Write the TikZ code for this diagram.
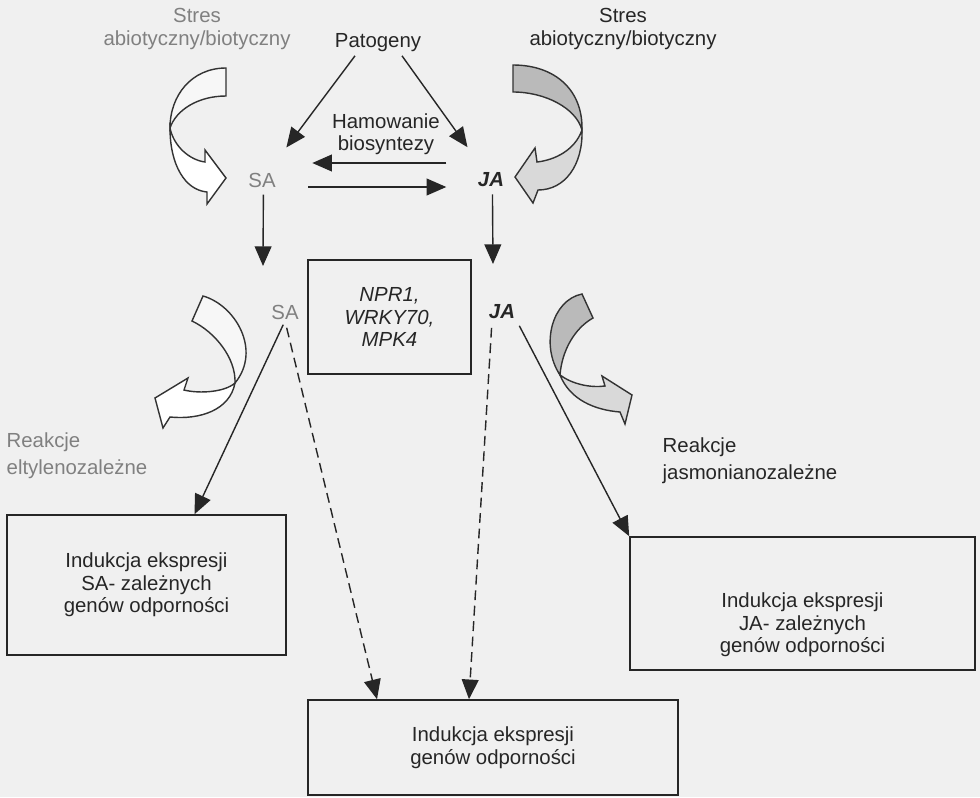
\documentclass[tikz,border=0pt]{standalone}
\usepackage{fontspec}
\setmainfont{Liberation Sans}
\usetikzlibrary{arrows.meta, positioning}

\newcommand{\diagfont}{\fontsize{14.5}{16}\selectfont}
\newcommand{\reakfont}{\fontsize{14.5}{19}\selectfont}

\begin{document}
\begin{tikzpicture}[
    x=0.025cm, y=-0.025cm,
    lbl/.style={font=\diagfont, text=black!85, align=center, inner sep=1pt},
    greylbl/.style={lbl, text=black!50},
    acid/.style={lbl, font=\diagfont\bfseries\itshape},
    genbox/.style={draw=black!85, line width=1.1pt, font=\diagfont,
      text=black!85, align=center, inner sep=4pt},
    arr/.style={-{Triangle[length=14pt,width=12pt]}, line width=1pt, black!85},
    dasharr/.style={arr, dash pattern=on 7pt off 4pt},
    backpale/.style={draw=black!80, line width=1pt, fill=black!3},
    frontpale/.style={draw=black!80, line width=1pt, fill=white},
    backgrey/.style={draw=black!80, line width=1pt, fill=black!27},
    frontgrey/.style={draw=black!80, line width=1pt, fill=black!15}
  ]
    \fill[black!6, use as bounding box] (0,0) rectangle (980,797);

    \node[greylbl] (stresL) at (197,29) {Stres\\abiotyczny/biotyczny};
    \node[lbl] (stresR) at (623,29) {Stres\\abiotyczny/biotyczny};
    \node[lbl] (pat) at (378,43) {Patogeny};
    \node[lbl] (ham) at (386,134) {Hamowanie\\biosyntezy};
    \node[greylbl] (sa1) at (262,180) {SA};
    \node[acid] (ja1) at (491,180) {JA};
    \node[genbox, minimum width=4.075cm, minimum height=2.85cm,
      font=\diagfont\itshape] (npr) at (389.5,317) {NPR1,\\WRKY70,\\MPK4};
    \node[greylbl] (sa2) at (285,312) {SA};
    \node[acid] (ja2) at (502,312) {JA};
    \node[greylbl, font=\reakfont, align=left, anchor=west] (reakL) at (5,456)
      {Reakcje\\eltylenozależne};
    \node[lbl, font=\reakfont, align=left, anchor=west] (reakR) at (661,461)
      {Reakcje\\jasmonianozależne};
    \node[genbox, minimum width=6.975cm, minimum height=3.5cm] (boxSA) at (146.5,585)
      {Indukcja ekspresji\\SA- zależnych\\genów odporności};
    \node[genbox, minimum width=8.625cm, minimum height=3.325cm, text height=73pt]
      (boxJA) at (802.5,603.5) {Indukcja ekspresji\\JA- zależnych\\genów odporności};
    \node[genbox, minimum width=9.25cm, minimum height=2.375cm] (boxAll) at (493,747.5)
      {Indukcja ekspresji\\genów odporności};

    \coordinate (sa1end) at (263,266);
    \coordinate (ja1end) at (493,264);

    \draw[arr, shorten >=21pt] ([shift={(-23,2)}]pat.south) -- (sa1);
    \draw[arr, shorten >=21pt] ([shift={(24,2)}]pat.south) -- (ja1);
    \draw[arr] ([shift={(-30,-17)}]ja1.west) -- ([shift={(35,-17)}]sa1.east);
    \draw[arr] ([shift={(31,7)}]sa1.east) -- ([shift={(-30,7)}]ja1.west);
    \draw[arr, shorten <=4pt] ([xshift=1pt]sa1.south) -- (sa1end);
    \draw[arr, shorten <=4pt] ([xshift=1pt]ja1.south) -- (ja1end);
    \draw[arr, shorten <=3pt] (sa2.south) -- ([shift={(48,0)}]boxSA.north);
    \draw[dasharr, shorten <=5pt] (sa2.south) -- ([shift={(-116,0)}]boxAll.north);
    \draw[dasharr, shorten <=5pt] ([shift={(-10,0)}]ja2.south) -- ([shift={(-24,0)}]boxAll.north);
    \draw[arr, shorten <=4pt] (ja2.south east) -- (boxJA.north west);

    \filldraw[backpale] (226,68) .. controls (192,68) and (170,95) .. (170,128)
      .. controls (176,110) and (198,96) .. (226,96) -- cycle;
    \filldraw[frontpale] (170,128) .. controls (170,165) and (185,190) .. (207,192)
      -- (207,204) -- (226,178) -- (205,150) -- (205,162)
      .. controls (190,160) and (174,147) .. (170,128) -- cycle;

    \filldraw[backgrey] (513,65) .. controls (555,65) and (583,90) .. (582,130)
      .. controls (576,108) and (545,92) .. (513,92) -- cycle;
    \filldraw[frontgrey] (582,130) .. controls (583,165) and (565,190) .. (538,190)
      -- (533,203) -- (515,177) -- (535,148) -- (537,162)
      .. controls (555,160) and (575,150) .. (582,130) -- cycle;

    \filldraw[backpale] (203,296) .. controls (235,305) and (262,350) .. (235,383)
      .. controls (236,358) and (215,332) .. (192,321) -- cycle;
    \filldraw[frontpale] (235,383) .. controls (225,392) and (200,394) .. (184,390)
      -- (188,378) -- (155,398) -- (163,428) -- (170,417)
      .. controls (200,420) and (230,410) .. (235,383) -- cycle;

    \filldraw[backgrey] (582,294) .. controls (552,300) and (540,345) .. (560,375)
      .. controls (562,350) and (575,328) .. (593,318) -- cycle;
    \filldraw[frontgrey] (560,375) .. controls (572,384) and (590,388) .. (605,386)
      -- (602,376) -- (632,395) -- (625,424) -- (620,412)
      .. controls (595,410) and (570,400) .. (560,375) -- cycle;
\end{tikzpicture}
\end{document}
